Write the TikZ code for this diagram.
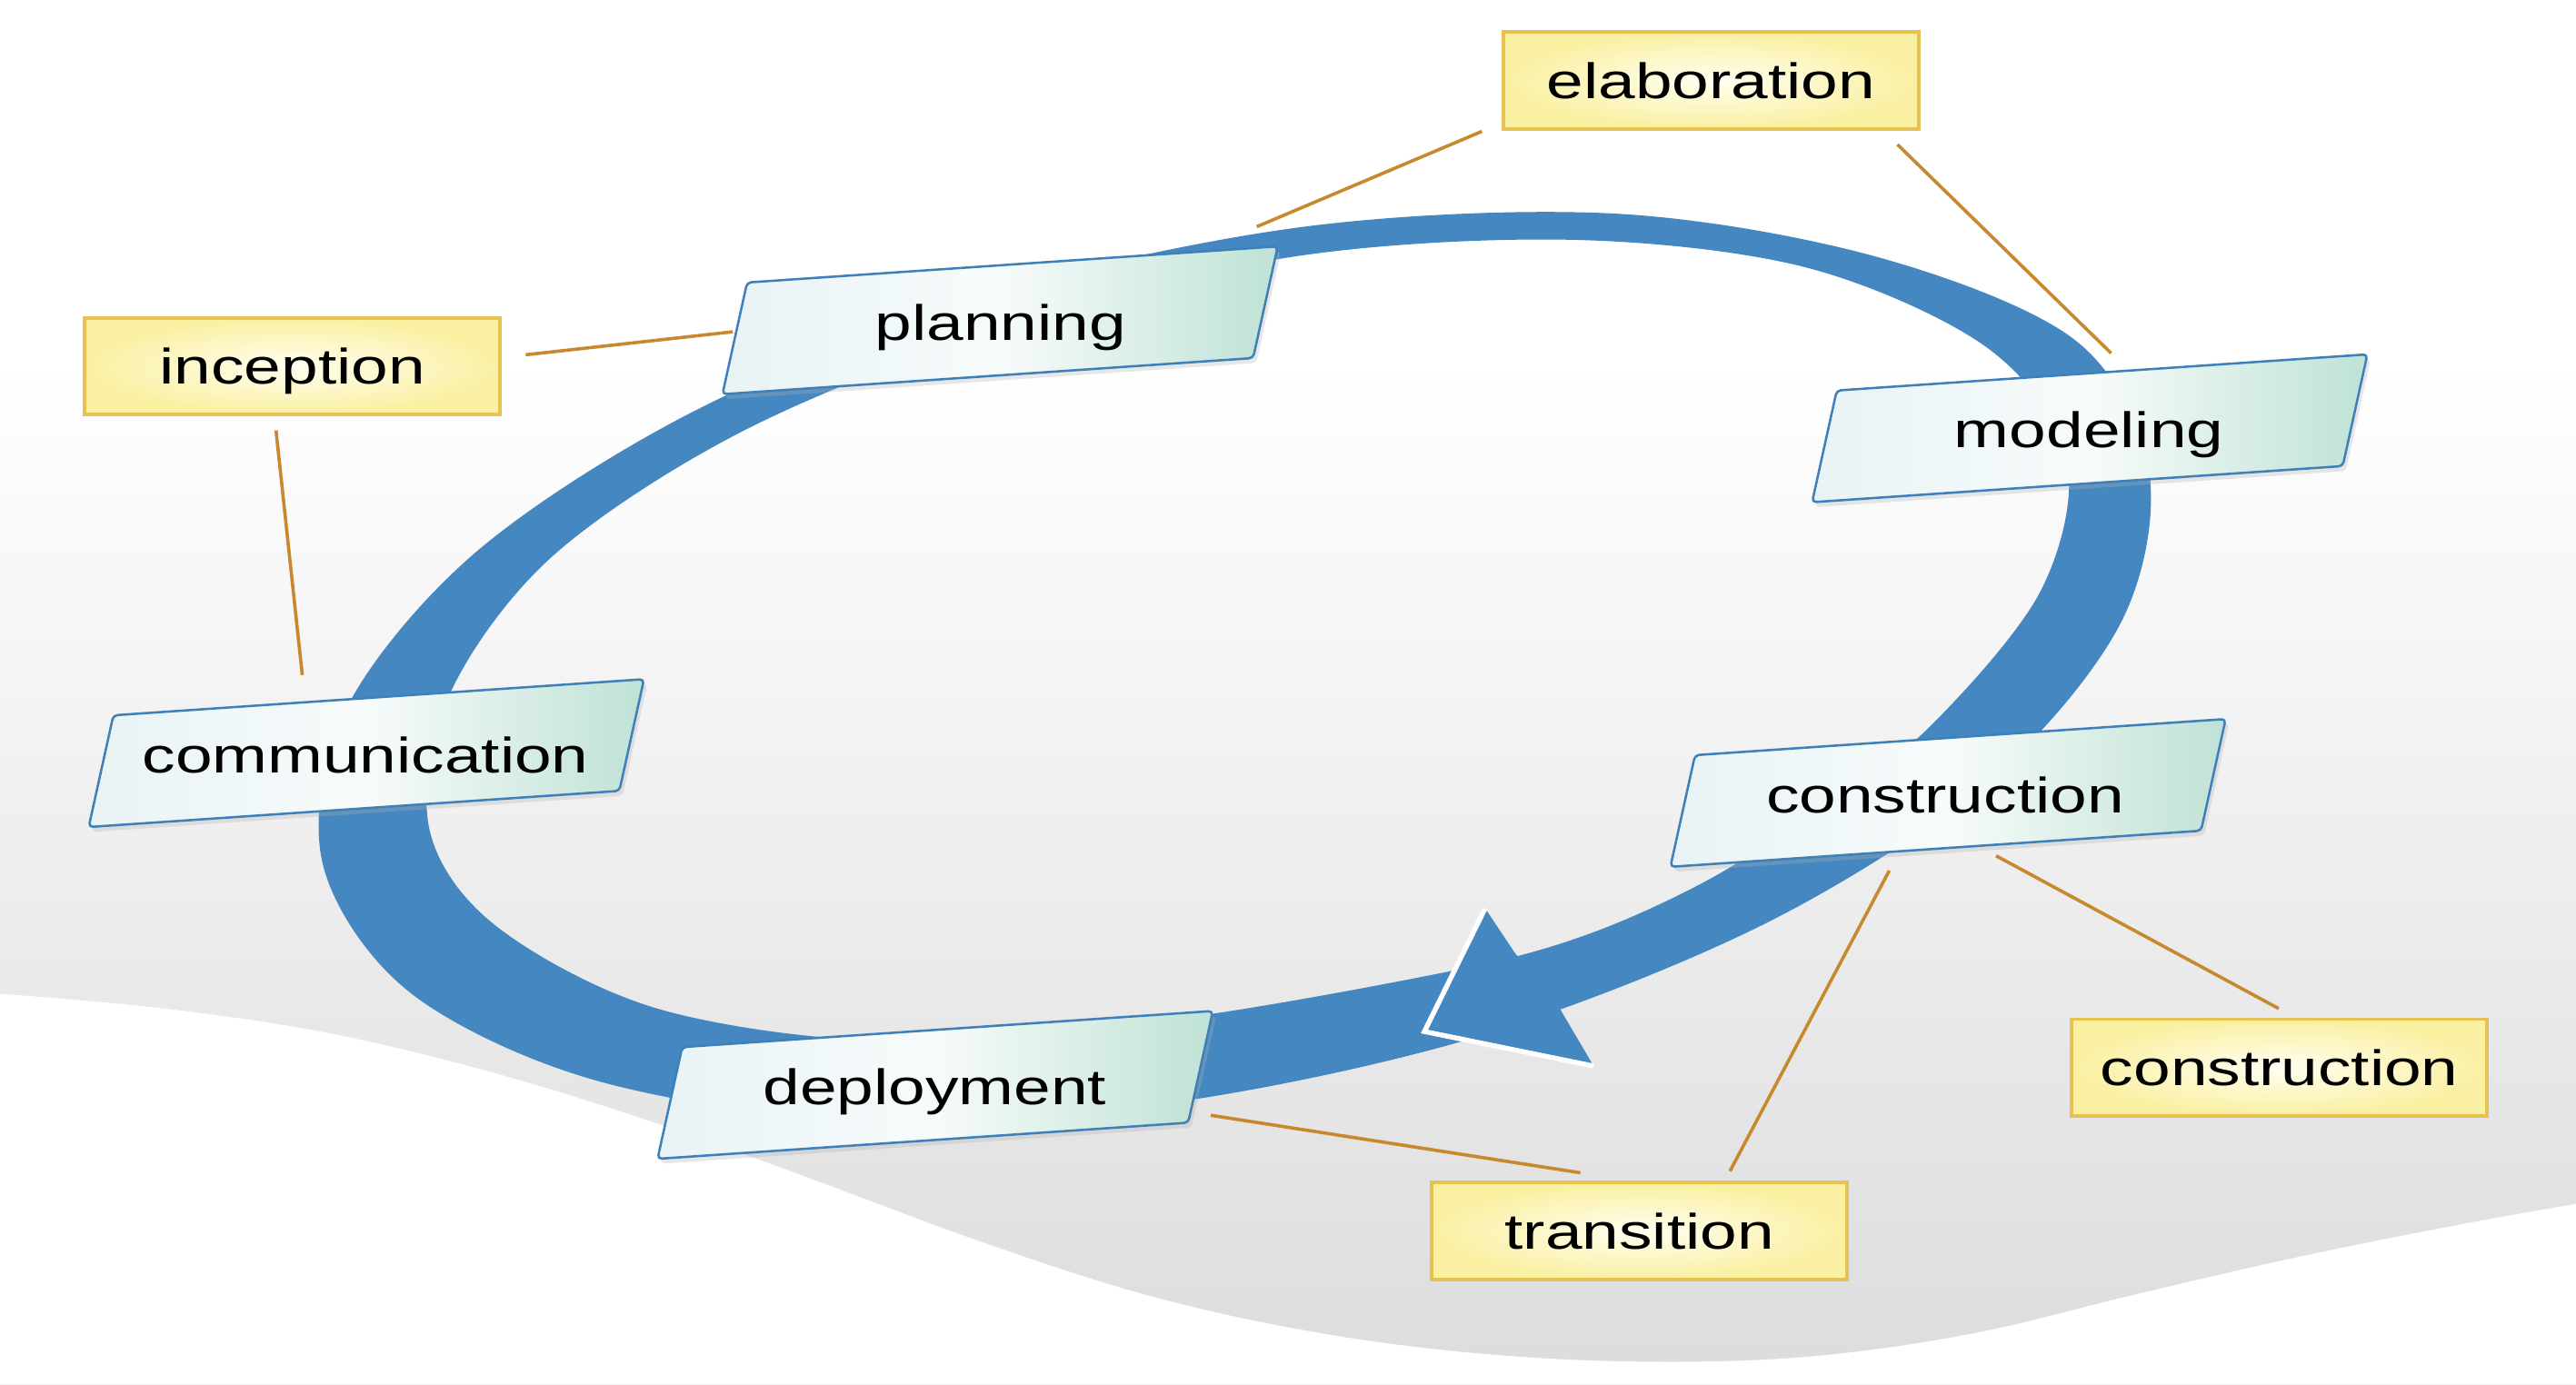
\documentclass[tikz,border=0pt]{standalone}
\usepackage{fontspec}
\setmainfont{Liberation Sans}[FakeStretch=1.3333]
\definecolor{ringblue}{HTML}{4587C0}
\definecolor{bggray}{HTML}{DCDCDC}
\definecolor{paraborder}{HTML}{3F80B8}
\definecolor{paraL}{HTML}{E8F3F5}
\definecolor{paraM}{HTML}{F7FBFB}
\definecolor{paraR}{HTML}{BFE2D5}
\definecolor{phaseborder}{HTML}{E8C250}
\definecolor{phasein}{HTML}{FFFEF0}
\definecolor{phaseout}{HTML}{FAF0A2}
\definecolor{linkorange}{HTML}{C8892E}
\begin{document}
\begin{tikzpicture}[x=1pt,y=-1pt,
  font=\fontsize{30.3pt}{36pt}\selectfont,
  paratext/.style={inner sep=0pt, text height=21.7pt, text depth=0pt},
  phase/.style={rectangle, draw=phaseborder, line width=2.2pt,
    inner color=phasein, outer color=phaseout,
    minimum width=253pt, minimum height=59pt, inner sep=0pt,
    text height=21.7pt, text depth=0pt},
  link/.style={draw=linkorange, line width=2pt},
  parabox/.style={draw=paraborder, line width=1.4pt, rounded corners=2.5pt,
    left color=paraL, right color=paraR, middle color=paraM},
  parashadow/.style={fill=black!30, opacity=0.3, rounded corners=2.5pt},
  parashape/.pic={
    \path[parashadow] (-152,-20) -- (171,-42) -- (156,26) -- (-167,48) -- cycle;
    \path[parabox] (-154,-23) -- (169,-45) -- (154,23) -- (-169,45) -- cycle;
  }
]
\useasboundingbox (0,0) rectangle (1568,843);
% background
\fill[white] (0,0) rectangle (1568,843);
\shade[top color=white, bottom color=bggray] (0,220) rectangle (1568,843);
\fill[white] plot[smooth, tension=0.6] coordinates {(0,605) (100,614) (200,629) (300,653) (400,684) (500,720) (600,757) (700,789) (800,811) (900,824) (1000,829) (1100,826) (1200,812) (1300,788) (1400,765) (1500,745) (1568,733)} -- (1568,843) -- (0,843) -- cycle;

% ring
\fill[ringblue, even odd rule]
  plot[smooth cycle, tension=0.55] coordinates {(1308,286) (1291,379) (1211,475) (1075,562) (900,631) (708,672) (520,682) (360,657) (248,603) (196,524) (211,431) (291,335) (427,248) (602,179) (794,138) (982,130) (1141,156) (1263,207)}
  plot[smooth cycle, tension=0.55] coordinates {(1258,279) (1242,360) (1173,444) (1107,492) (1041,535) (966,569) (884,591) (711,621) (543,634) (400,614) (301,563) (261,503) (274,422) (337,338) (455,261) (616,197) (789,156) (957,146) (1100,163) (1210,212)};

% arrow head
\coordinate (tip) at (867,628);
\coordinate (barbU) at (904,553);
\coordinate (notchU) at (922,580);
\coordinate (notchL) at (950,615);
\coordinate (barbL) at (970,649);
\fill[ringblue] (tip) -- (barbU) -- (notchU) -- (notchL) -- (barbL) -- cycle;
\draw[white, line width=3pt, line join=miter] (barbU) -- (tip) -- (barbL);

% activity boxes
\pic at (608.75,195) {parashape};
\pic at (1272,260.75) {parashape};
\pic at (223,458.5) {parashape};
\pic at (1185.75,482.75) {parashape};
\pic at (569.25,660.5) {parashape};
\node[paratext] (planning) at (609,196.2) {planning};
\node[paratext] (modeling) at (1271.5,261.9) {modeling};
\node[paratext] (communication) at (222.5,459.7) {communication};
\node[paratext] (constructionA) at (1184,483.9) {construction};
\node[paratext] (deployment) at (569,661.7) {deployment};

% phase boxes
\node[phase] (elaboration) at (1041.5,49) {elaboration};
\node[phase] (inception) at (178,223) {inception};
\node[phase] (constructionB) at (1387.5,650) {construction};
\node[phase] (transition) at (998,749.5) {transition};

% connector ends
\coordinate (inc-e) at (320,216);
\coordinate (plan-w) at (446,202);
\coordinate (inc-s) at (168,262);
\coordinate (comm-n) at (184,411);
\coordinate (elab-w) at (902,80);
\coordinate (plan-n) at (765,138);
\coordinate (elab-s) at (1155,88);
\coordinate (mod-n) at (1285,215);
\coordinate (conB-n) at (1387,614);
\coordinate (conA-s1) at (1215,521);
\coordinate (trans-n) at (1053,713);
\coordinate (conA-s2) at (1150,530);
\coordinate (trans-w) at (962,714);
\coordinate (dep-e) at (737,679);
\draw[link] (inc-e) -- (plan-w);
\draw[link] (inc-s) -- (comm-n);
\draw[link] (elab-w) -- (plan-n);
\draw[link] (elab-s) -- (mod-n);
\draw[link] (conB-n) -- (conA-s1);
\draw[link] (trans-n) -- (conA-s2);
\draw[link] (trans-w) -- (dep-e);
\end{tikzpicture}
\end{document}
